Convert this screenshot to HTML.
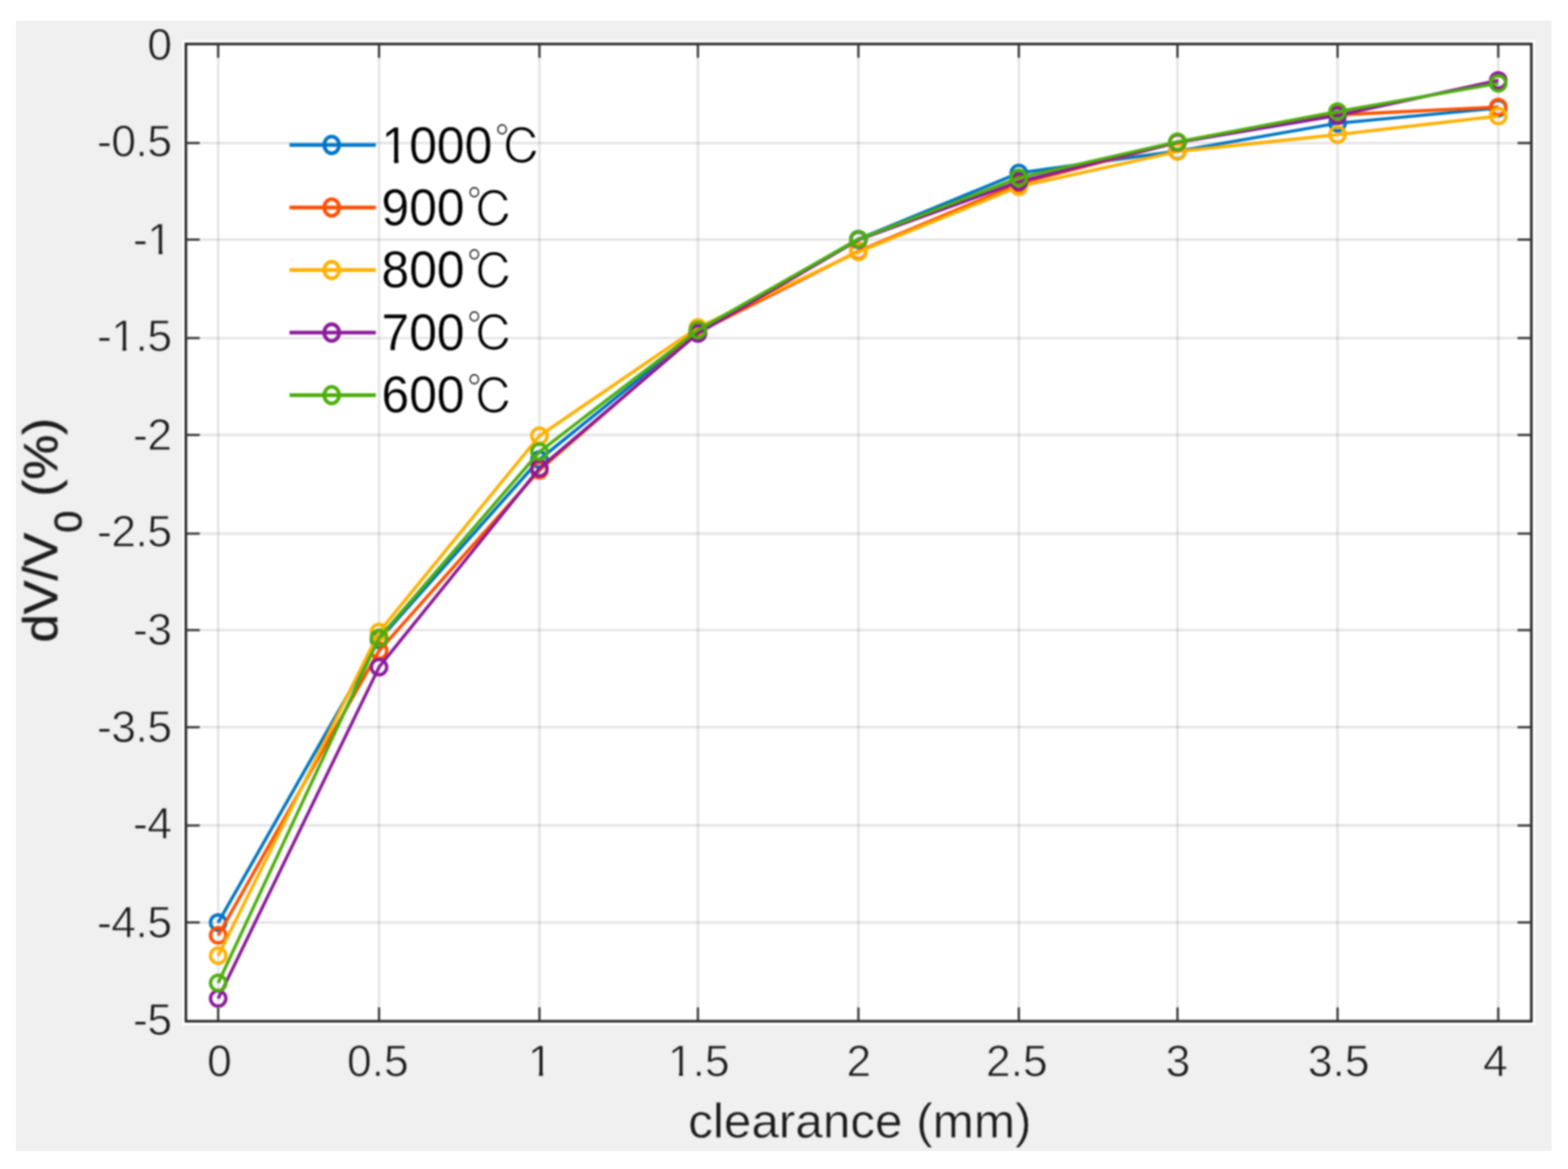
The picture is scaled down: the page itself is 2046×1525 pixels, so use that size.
<!DOCTYPE html>
<html lang="en"><head><meta charset="utf-8">
<title>dV/V0 (%) vs clearance (mm)</title>
<style>
html,body{margin:0;padding:0;background:#fff;}
body{width:2046px;height:1525px;overflow:hidden;}
svg{display:block;}
text{font-family:"Liberation Sans",sans-serif;font-kerning:none;}
.cjk{font-family:"IPAGothic","Noto Sans CJK JP","Noto Sans CJK SC",sans-serif;}
</style></head><body>
<svg width="2046" height="1525" viewBox="0 0 2046 1525">
<defs>
<filter id="soft" x="-2%" y="-2%" width="104%" height="104%" color-interpolation-filters="sRGB"><feGaussianBlur stdDeviation="1.0"/></filter>
<filter id="softt" x="-5%" y="-5%" width="110%" height="110%" color-interpolation-filters="sRGB"><feGaussianBlur stdDeviation="1.0"/></filter>
<clipPath id="k0"><rect x="-316.13" y="-75.40" width="1000.00" height="70.27"/><rect x="-316.13" y="2.00" width="1000.00" height="32.80"/><rect x="-316.13" y="-8.13" width="302.32" height="13.13"/><rect x="-1.54" y="-8.13" width="5.12" height="13.13"/><rect x="15.19" y="-8.13" width="668.68" height="13.13"/></clipPath>
<clipPath id="k1"><rect x="-340.31" y="-75.40" width="1000.00" height="70.27"/><rect x="-340.31" y="2.00" width="1000.00" height="32.80"/><rect x="-340.31" y="-8.13" width="302.32" height="13.13"/><rect x="-25.73" y="-8.13" width="5.12" height="13.13"/><rect x="-8.99" y="-8.13" width="668.68" height="13.13"/></clipPath>
<clipPath id="k2"><rect x="-350.37" y="-75.40" width="1000.00" height="70.27"/><rect x="-350.37" y="2.00" width="1000.00" height="32.80"/><rect x="-350.37" y="-8.13" width="321.03" height="13.13"/><rect x="-17.07" y="-8.13" width="5.12" height="13.13"/><rect x="-0.34" y="-8.13" width="649.97" height="13.13"/></clipPath>
<clipPath id="k3"><rect x="-397.54" y="-75.40" width="1000.00" height="70.27"/><rect x="-397.54" y="2.00" width="1000.00" height="32.80"/><rect x="-397.54" y="-8.13" width="321.03" height="13.13"/><rect x="-64.24" y="-8.13" width="5.12" height="13.13"/><rect x="-47.51" y="-8.13" width="649.97" height="13.13"/></clipPath>
<clipPath id="k4"><rect x="-300.00" y="-84.50" width="1000.00" height="78.84"/><rect x="-300.00" y="2.00" width="1000.00" height="37.00"/><rect x="-300.00" y="-8.66" width="302.60" height="13.66"/><rect x="16.35" y="-8.66" width="5.74" height="13.66"/><rect x="35.10" y="-8.66" width="664.90" height="13.66"/></clipPath>
</defs>
<rect x="0" y="0" width="2046" height="1525" fill="#ffffff"/>
<rect x="20.7" y="27.0" width="2003.9" height="1474.5" fill="#f0f0f0"/>
<rect x="237.6" y="52.4" width="1765.6" height="1284.8" fill="#ffffff" filter="url(#soft)"/>
<rect x="242.6" y="57.4" width="1755.6" height="1274.8" fill="#ffffff"/>
<g stroke="#000000" stroke-opacity="0.105" stroke-width="3.2" fill="none" filter="url(#soft)">
<line x1="284.7" y1="57.4" x2="284.7" y2="1332.2"/>
<line x1="494.6" y1="57.4" x2="494.6" y2="1332.2"/>
<line x1="703.9" y1="57.4" x2="703.9" y2="1332.2"/>
<line x1="910.7" y1="57.4" x2="910.7" y2="1332.2"/>
<line x1="1120.1" y1="57.4" x2="1120.1" y2="1332.2"/>
<line x1="1329.4" y1="57.4" x2="1329.4" y2="1332.2"/>
<line x1="1536.4" y1="57.4" x2="1536.4" y2="1332.2"/>
<line x1="1745.3" y1="57.4" x2="1745.3" y2="1332.2"/>
<line x1="1955.0" y1="57.4" x2="1955.0" y2="1332.2"/>
<line x1="242.6" y1="186.6" x2="1998.2" y2="186.6"/>
<line x1="242.6" y1="312.6" x2="1998.2" y2="312.6"/>
<line x1="242.6" y1="441.0" x2="1998.2" y2="441.0"/>
<line x1="242.6" y1="567.4" x2="1998.2" y2="567.4"/>
<line x1="242.6" y1="696.1" x2="1998.2" y2="696.1"/>
<line x1="242.6" y1="822.0" x2="1998.2" y2="822.0"/>
<line x1="242.6" y1="948.7" x2="1998.2" y2="948.7"/>
<line x1="242.6" y1="1076.9" x2="1998.2" y2="1076.9"/>
<line x1="242.6" y1="1203.3" x2="1998.2" y2="1203.3"/>
</g>
<g filter="url(#soft)" fill="none" stroke-linejoin="round" stroke-linecap="butt">
<g stroke="#0075c4">
<polyline points="284.7,1203.5 494.6,834.7 703.9,599.5 910.7,432.4 1120.1,311.9 1329.4,225.7 1536.4,197.2 1745.3,160.8 1955.0,141.0" stroke-width="4.2"/>
<circle cx="284.7" cy="1203.5" r="10.0" stroke-width="4.4"/>
<circle cx="494.6" cy="834.7" r="10.0" stroke-width="4.4"/>
<circle cx="703.9" cy="599.5" r="10.0" stroke-width="4.4"/>
<circle cx="910.7" cy="432.4" r="10.0" stroke-width="4.4"/>
<circle cx="1120.1" cy="311.9" r="10.0" stroke-width="4.4"/>
<circle cx="1329.4" cy="225.7" r="10.0" stroke-width="4.4"/>
<circle cx="1536.4" cy="197.2" r="10.0" stroke-width="4.4"/>
<circle cx="1745.3" cy="160.8" r="10.0" stroke-width="4.4"/>
<circle cx="1955.0" cy="141.0" r="10.0" stroke-width="4.4"/>
</g>
<g stroke="#ff4f00">
<polyline points="284.7,1220.2 494.6,849.0 703.9,613.5 910.7,433.4 1120.1,327.6 1329.4,239.7 1536.4,185.7 1745.3,149.9 1955.0,139.7" stroke-width="4.2"/>
<circle cx="284.7" cy="1220.2" r="10.0" stroke-width="4.4"/>
<circle cx="494.6" cy="849.0" r="10.0" stroke-width="4.4"/>
<circle cx="703.9" cy="613.5" r="10.0" stroke-width="4.4"/>
<circle cx="910.7" cy="433.4" r="10.0" stroke-width="4.4"/>
<circle cx="1120.1" cy="327.6" r="10.0" stroke-width="4.4"/>
<circle cx="1329.4" cy="239.7" r="10.0" stroke-width="4.4"/>
<circle cx="1536.4" cy="185.7" r="10.0" stroke-width="4.4"/>
<circle cx="1745.3" cy="149.9" r="10.0" stroke-width="4.4"/>
<circle cx="1955.0" cy="139.7" r="10.0" stroke-width="4.4"/>
</g>
<g stroke="#ffb000">
<polyline points="284.7,1246.7 494.6,824.5 703.9,568.5 910.7,427.3 1120.1,328.7 1329.4,243.5 1536.4,197.7 1745.3,175.6 1955.0,151.4" stroke-width="4.2"/>
<circle cx="284.7" cy="1246.7" r="10.0" stroke-width="4.4"/>
<circle cx="494.6" cy="824.5" r="10.0" stroke-width="4.4"/>
<circle cx="703.9" cy="568.5" r="10.0" stroke-width="4.4"/>
<circle cx="910.7" cy="427.3" r="10.0" stroke-width="4.4"/>
<circle cx="1120.1" cy="328.7" r="10.0" stroke-width="4.4"/>
<circle cx="1329.4" cy="243.5" r="10.0" stroke-width="4.4"/>
<circle cx="1536.4" cy="197.7" r="10.0" stroke-width="4.4"/>
<circle cx="1745.3" cy="175.6" r="10.0" stroke-width="4.4"/>
<circle cx="1955.0" cy="151.4" r="10.0" stroke-width="4.4"/>
</g>
<g stroke="#8a1a9a">
<polyline points="284.7,1302.6 494.6,870.3 703.9,610.9 910.7,435.0 1120.1,312.9 1329.4,237.1 1536.4,185.7 1745.3,150.6 1955.0,104.9" stroke-width="4.2"/>
<circle cx="284.7" cy="1302.6" r="10.0" stroke-width="4.4"/>
<circle cx="494.6" cy="870.3" r="10.0" stroke-width="4.4"/>
<circle cx="703.9" cy="610.9" r="10.0" stroke-width="4.4"/>
<circle cx="910.7" cy="435.0" r="10.0" stroke-width="4.4"/>
<circle cx="1120.1" cy="312.9" r="10.0" stroke-width="4.4"/>
<circle cx="1329.4" cy="237.1" r="10.0" stroke-width="4.4"/>
<circle cx="1536.4" cy="185.7" r="10.0" stroke-width="4.4"/>
<circle cx="1745.3" cy="150.6" r="10.0" stroke-width="4.4"/>
<circle cx="1955.0" cy="104.9" r="10.0" stroke-width="4.4"/>
</g>
<g stroke="#4cae0c">
<polyline points="284.7,1282.3 494.6,832.2 703.9,589.3 910.7,430.6 1120.1,312.1 1329.4,232.0 1536.4,185.0 1745.3,145.6 1955.0,108.7" stroke-width="4.2"/>
<circle cx="284.7" cy="1282.3" r="10.0" stroke-width="4.4"/>
<circle cx="494.6" cy="832.2" r="10.0" stroke-width="4.4"/>
<circle cx="703.9" cy="589.3" r="10.0" stroke-width="4.4"/>
<circle cx="910.7" cy="430.6" r="10.0" stroke-width="4.4"/>
<circle cx="1120.1" cy="312.1" r="10.0" stroke-width="4.4"/>
<circle cx="1329.4" cy="232.0" r="10.0" stroke-width="4.4"/>
<circle cx="1536.4" cy="185.0" r="10.0" stroke-width="4.4"/>
<circle cx="1745.3" cy="145.6" r="10.0" stroke-width="4.4"/>
<circle cx="1955.0" cy="108.7" r="10.0" stroke-width="4.4"/>
</g>
<g stroke="#0075c4"><line x1="377.7" y1="189.1" x2="490.4" y2="189.1" stroke-width="4.9"/><ellipse cx="432.8" cy="189.1" rx="9.7" ry="10.9" stroke-width="4.800000000000001"/></g>
<g stroke="#ff4f00"><line x1="377.7" y1="270.7" x2="490.4" y2="270.7" stroke-width="4.9"/><ellipse cx="432.8" cy="270.7" rx="9.7" ry="10.9" stroke-width="4.800000000000001"/></g>
<g stroke="#ffb000"><line x1="377.7" y1="352.3" x2="490.4" y2="352.3" stroke-width="4.9"/><ellipse cx="432.8" cy="352.3" rx="9.7" ry="10.9" stroke-width="4.800000000000001"/></g>
<g stroke="#8a1a9a"><line x1="377.7" y1="433.9" x2="490.4" y2="433.9" stroke-width="4.9"/><ellipse cx="432.8" cy="433.9" rx="9.7" ry="10.9" stroke-width="4.800000000000001"/></g>
<g stroke="#4cae0c"><line x1="377.7" y1="515.5" x2="490.4" y2="515.5" stroke-width="4.9"/><ellipse cx="432.8" cy="515.5" rx="9.7" ry="10.9" stroke-width="4.800000000000001"/></g>
</g>
<g stroke="#2a2a2a" fill="none" filter="url(#soft)">
<rect x="242.6" y="57.4" width="1755.6" height="1274.8" stroke-width="3.4"/>
<g stroke-width="2.7" stroke="#333333">
<line x1="284.7" y1="1332.2" x2="284.7" y2="1314.2"/>
<line x1="284.7" y1="57.4" x2="284.7" y2="75.4"/>
<line x1="494.6" y1="1332.2" x2="494.6" y2="1314.2"/>
<line x1="494.6" y1="57.4" x2="494.6" y2="75.4"/>
<line x1="703.9" y1="1332.2" x2="703.9" y2="1314.2"/>
<line x1="703.9" y1="57.4" x2="703.9" y2="75.4"/>
<line x1="910.7" y1="1332.2" x2="910.7" y2="1314.2"/>
<line x1="910.7" y1="57.4" x2="910.7" y2="75.4"/>
<line x1="1120.1" y1="1332.2" x2="1120.1" y2="1314.2"/>
<line x1="1120.1" y1="57.4" x2="1120.1" y2="75.4"/>
<line x1="1329.4" y1="1332.2" x2="1329.4" y2="1314.2"/>
<line x1="1329.4" y1="57.4" x2="1329.4" y2="75.4"/>
<line x1="1536.4" y1="1332.2" x2="1536.4" y2="1314.2"/>
<line x1="1536.4" y1="57.4" x2="1536.4" y2="75.4"/>
<line x1="1745.3" y1="1332.2" x2="1745.3" y2="1314.2"/>
<line x1="1745.3" y1="57.4" x2="1745.3" y2="75.4"/>
<line x1="1955.0" y1="1332.2" x2="1955.0" y2="1314.2"/>
<line x1="1955.0" y1="57.4" x2="1955.0" y2="75.4"/>
<line x1="242.6" y1="186.6" x2="260.6" y2="186.6"/>
<line x1="1998.2" y1="186.6" x2="1980.2" y2="186.6"/>
<line x1="242.6" y1="312.6" x2="260.6" y2="312.6"/>
<line x1="1998.2" y1="312.6" x2="1980.2" y2="312.6"/>
<line x1="242.6" y1="441.0" x2="260.6" y2="441.0"/>
<line x1="1998.2" y1="441.0" x2="1980.2" y2="441.0"/>
<line x1="242.6" y1="567.4" x2="260.6" y2="567.4"/>
<line x1="1998.2" y1="567.4" x2="1980.2" y2="567.4"/>
<line x1="242.6" y1="696.1" x2="260.6" y2="696.1"/>
<line x1="1998.2" y1="696.1" x2="1980.2" y2="696.1"/>
<line x1="242.6" y1="822.0" x2="260.6" y2="822.0"/>
<line x1="1998.2" y1="822.0" x2="1980.2" y2="822.0"/>
<line x1="242.6" y1="948.7" x2="260.6" y2="948.7"/>
<line x1="1998.2" y1="948.7" x2="1980.2" y2="948.7"/>
<line x1="242.6" y1="1076.9" x2="260.6" y2="1076.9"/>
<line x1="1998.2" y1="1076.9" x2="1980.2" y2="1076.9"/>
<line x1="242.6" y1="1203.3" x2="260.6" y2="1203.3"/>
<line x1="1998.2" y1="1203.3" x2="1980.2" y2="1203.3"/>
</g></g>
<g fill="#1c1c1c" filter="url(#softt)">
<g font-size="58.0" text-anchor="middle" stroke="#f0f0f0" stroke-width="0.9">
<text transform="translate(286.5 1403.6) scale(1 0.99)">0</text>
<text transform="translate(493.0 1403.6) scale(1 0.99)">0.5</text>
<text transform="translate(704.9 1403.6) scale(1 0.99)" clip-path="url(#k0)">1</text>
<text transform="translate(911.7 1403.6) scale(1 0.99)" clip-path="url(#k1)">1.5</text>
<text transform="translate(1120.6 1403.6) scale(1 0.99)">2</text>
<text transform="translate(1326.8 1403.6) scale(1 0.99)">2.5</text>
<text transform="translate(1537.1 1403.6) scale(1 0.99)">3</text>
<text transform="translate(1746.8 1403.6) scale(1 0.99)">3.5</text>
<text transform="translate(1951.5 1403.6) scale(1 0.99)">4</text>
</g>
<g font-size="58.0" text-anchor="end" letter-spacing="-0.6" stroke="#f0f0f0" stroke-width="0.9">
<text transform="translate(224.0 77.9) scale(1 0.99)">0</text>
<text transform="translate(224.0 203.5) scale(1 0.99)">-0.5</text>
<text transform="translate(224.0 331.8) scale(1 0.99)" clip-path="url(#k2)">-1</text>
<text transform="translate(224.0 457.8) scale(1 0.99)" clip-path="url(#k3)">-1.5</text>
<text transform="translate(224.0 587.1) scale(1 0.99)">-2</text>
<text transform="translate(224.0 713.0) scale(1 0.99)">-2.5</text>
<text transform="translate(224.0 840.5) scale(1 0.99)">-3</text>
<text transform="translate(224.0 967.7) scale(1 0.99)">-3.5</text>
<text transform="translate(224.0 1094.1) scale(1 0.99)">-4</text>
<text transform="translate(224.0 1222.8) scale(1 0.99)">-4.5</text>
<text transform="translate(224.0 1350.4) scale(1 0.99)">-5</text>
</g>
<text transform="translate(1122.0 1483.6) scale(1 0.975)" font-size="64.5" text-anchor="middle" stroke="#f0f0f0" stroke-width="0.6">clearance (mm)</text>
<text transform="translate(74.1 691.6) rotate(-90) scale(1.022 0.975)" font-size="64.5" text-anchor="middle" stroke="#1c1c1c" stroke-width="0.7">dV/V<tspan font-size="51" dy="33">0</tspan><tspan dy="-33"> (%)</tspan></text>
</g>
<g fill="#000000" font-size="65.0" filter="url(#softt)">
<text transform="translate(497.8 212.6) scale(1 1.04)" stroke="#ffffff" stroke-width="0.3" clip-path="url(#k4)">1000<tspan class="cjk" font-size="62" dx="2.5" dy="2.6" stroke-width="1.2">℃</tspan></text>
<text transform="translate(497.8 293.9) scale(1 1.04)" stroke="#ffffff" stroke-width="0.3">900<tspan class="cjk" font-size="62" dx="2.5" dy="2.6" stroke-width="1.2">℃</tspan></text>
<text transform="translate(497.8 375.2) scale(1 1.04)" stroke="#ffffff" stroke-width="0.3">800<tspan class="cjk" font-size="62" dx="2.5" dy="2.6" stroke-width="1.2">℃</tspan></text>
<text transform="translate(497.8 456.5) scale(1 1.04)" stroke="#ffffff" stroke-width="0.3">700<tspan class="cjk" font-size="62" dx="2.5" dy="2.6" stroke-width="1.2">℃</tspan></text>
<text transform="translate(497.8 537.8) scale(1 1.04)" stroke="#ffffff" stroke-width="0.3">600<tspan class="cjk" font-size="62" dx="2.5" dy="2.6" stroke-width="1.2">℃</tspan></text>
</g>
</svg>
</body></html>
